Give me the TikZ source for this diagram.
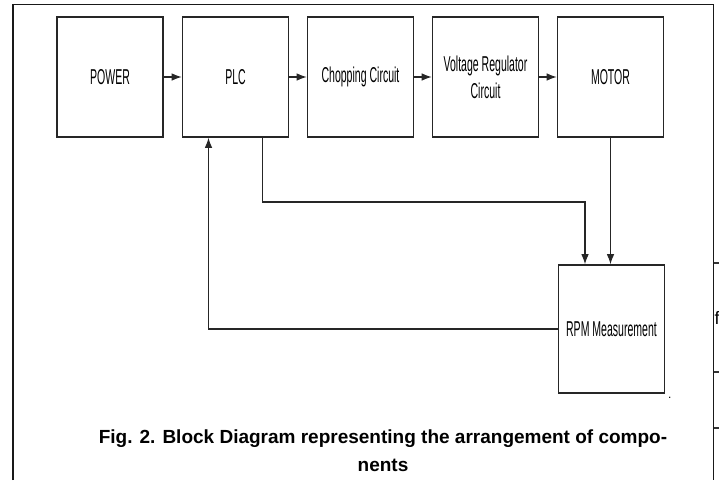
\documentclass[tikz,border=0pt]{standalone}
\usepackage{fontspec}
\setmainfont{Liberation Sans}
\newfontfamily\narrowfont[FakeStretch=0.49]{Liberation Sans}
\usetikzlibrary{arrows.meta}
\tikzset{
  blk/.style={draw=black!85, line width=1.6pt, minimum width=106pt, minimum height=120pt, inner sep=0pt, align=center,
    font=\narrowfont\fontsize{21.5}{27}\selectfont},
  conn/.style={draw=black!85, line width=1.1pt},
  arr/.style={conn, -{Latex[length=10pt,width=7.5pt]}},
  frame/.style={draw=black!90, line width=1.8pt},
  tick/.style={draw=black!80, line width=1.2pt},
  capt/.style={font=\bfseries\fontsize{19}{28}\selectfont, align=center, inner sep=0pt}
}
\begin{document}
\begin{tikzpicture}[x=1pt,y=-1pt]
\useasboundingbox (0,0) rectangle (719,480);
% frame
\draw[frame] (13,480) -- (13,4.5) -- (713.5,4.5) -- (713.5,480);
\coordinate (t1a) at (713.5,263); \coordinate (t1b) at (719,263);
\coordinate (t2a) at (713.5,372); \coordinate (t2b) at (719,372);
\coordinate (t3a) at (713.5,428); \coordinate (t3b) at (719,428);
\draw[tick] (t1a) -- (t1b);
\draw[tick] (t2a) -- (t2b);
\draw[tick] (t3a) -- (t3b);
\node[font=\fontsize{18}{20}\selectfont, anchor=west, inner sep=0pt] (ff) at (714.5,318) {f};
% blocks
\node[blk] (power) at (110,77) {POWER};
\node[blk] (plc) at (235.5,77) {PLC};
\node[blk] (chop) at (360.5,77) {Chopping Circuit};
\node[blk] (volt) at (485.5,77) {Voltage Regulator\\Circuit};
\node[blk] (motor) at (610.5,77) {MOTOR};
\node[blk, minimum height=128pt] (rpm) at (611.5,329) {RPM Measurement};
\node[inner sep=0pt, font=\fontsize{12}{12}\selectfont, anchor=south west] (dot) at (668,399) {.};
% connectors
\draw[arr] (power) -- (plc);
\draw[arr] (plc) -- (chop);
\draw[arr] (chop) -- (volt);
\draw[arr] (volt) -- (motor);
\draw[arr] (motor.south) -- (rpm.north -| motor.south);
\coordinate (plcout) at (262.5,137);
\draw[arr] (plc.south -| plcout) |- (585,202) -- (rpm.north -| 585,0);
\draw[arr] (rpm.west) -| (plc.south -| 208.5,0);
% caption
\node[capt] (cap) at (383,451) {Fig. 2. Block Diagram representing the arrangement of compo-\\nents};
\end{tikzpicture}
\end{document}
